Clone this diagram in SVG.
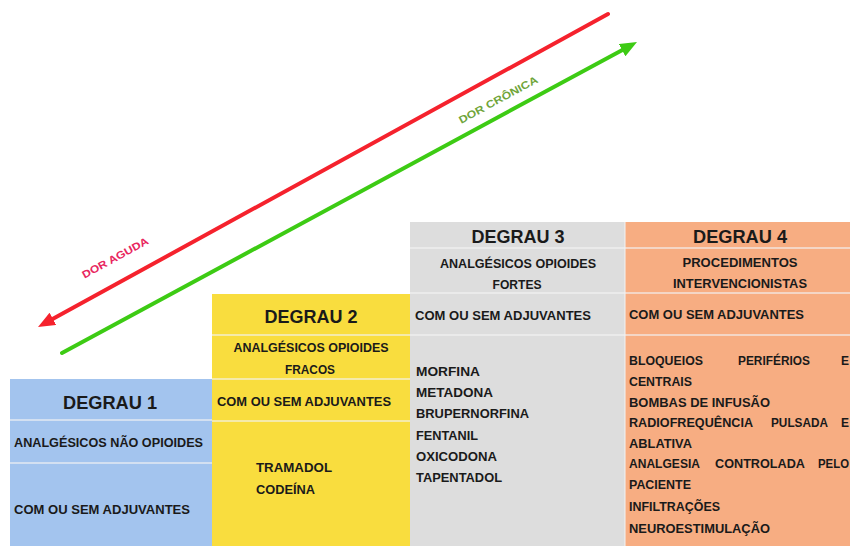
<svg xmlns="http://www.w3.org/2000/svg" width="850" height="546" viewBox="0 0 850 546">
<style>
  text { font-family: "Liberation Sans", Arial, sans-serif; font-weight: bold; fill: #1a1a1a; }
  .h { font-size: 18px; text-anchor: middle; }
  .t { font-size: 12px; }
  .c { text-anchor: middle; }
  .sep { stroke: #F3F3F3; stroke-width: 1.5; opacity: 0.8; }
  .lbl { font-size: 10.5px; text-anchor: middle; }
</style>
<defs>
  <marker id="headRed" markerUnits="userSpaceOnUse" markerWidth="17" markerHeight="14" refX="3" refY="7" orient="auto">
    <path d="M0,0 L17,7 L0,14 z" fill="#F5222D"/>
  </marker>
  <marker id="headGreen" markerUnits="userSpaceOnUse" markerWidth="17" markerHeight="14" refX="3" refY="7" orient="auto">
    <path d="M0,0 L17,7 L0,14 z" fill="#3DCB14"/>
  </marker>
</defs>
<rect width="850" height="546" fill="#FFFFFF"/>

<g id="degrau1">
  <rect x="10" y="379" width="202" height="167" fill="#A3C4EE"/>
  <line class="sep" x1="10" y1="420" x2="212" y2="420"/>
  <line class="sep" x1="10" y1="463" x2="212" y2="463"/>
  <text class="h" x="110" y="409" textLength="94" lengthAdjust="spacingAndGlyphs">DEGRAU 1</text>
  <text class="t" x="14" y="447" textLength="189" lengthAdjust="spacingAndGlyphs">ANALGÉSICOS NÃO OPIOIDES</text>
  <text class="t" x="14" y="514" textLength="176" lengthAdjust="spacingAndGlyphs">COM OU SEM ADJUVANTES</text>
</g>

<g id="degrau2">
  <rect x="212" y="294" width="198" height="252" fill="#F9DD3E"/>
  <line class="sep" x1="212" y1="335" x2="410" y2="335"/>
  <line class="sep" x1="212" y1="379" x2="410" y2="379"/>
  <line class="sep" x1="212" y1="421" x2="410" y2="421"/>
  <text class="h" x="311" y="323" textLength="93" lengthAdjust="spacingAndGlyphs">DEGRAU 2</text>
  <text class="t c" x="311" y="352" textLength="155" lengthAdjust="spacingAndGlyphs">ANALGÉSICOS OPIOIDES</text>
  <text class="t c" x="310" y="374" textLength="50" lengthAdjust="spacingAndGlyphs">FRACOS</text>
  <text class="t" x="217" y="406" textLength="174" lengthAdjust="spacingAndGlyphs">COM OU SEM ADJUVANTES</text>
  <text class="t" x="256" y="472" textLength="76" lengthAdjust="spacingAndGlyphs">TRAMADOL</text>
  <text class="t" x="256" y="494" textLength="59" lengthAdjust="spacingAndGlyphs">CODEÍNA</text>
</g>

<g id="degrau3">
  <rect x="410" y="222" width="215" height="324" fill="#DDDDDD"/>
  <line class="sep" x1="410" y1="248" x2="625" y2="248"/>
  <line class="sep" x1="410" y1="293" x2="625" y2="293"/>
  <line class="sep" x1="410" y1="335" x2="625" y2="335"/>
  <text class="h" x="518" y="243" textLength="93" lengthAdjust="spacingAndGlyphs">DEGRAU 3</text>
  <text class="t c" x="518" y="268" textLength="156" lengthAdjust="spacingAndGlyphs">ANALGÉSICOS OPIOIDES</text>
  <text class="t c" x="517" y="289" textLength="49" lengthAdjust="spacingAndGlyphs">FORTES</text>
  <text class="t" x="415" y="320" textLength="176" lengthAdjust="spacingAndGlyphs">COM OU SEM ADJUVANTES</text>
  <text class="t" x="416" y="376" textLength="64" lengthAdjust="spacingAndGlyphs">MORFINA</text>
  <text class="t" x="416" y="397" textLength="77" lengthAdjust="spacingAndGlyphs">METADONA</text>
  <text class="t" x="416" y="418" textLength="113" lengthAdjust="spacingAndGlyphs">BRUPERNORFINA</text>
  <text class="t" x="416" y="440" textLength="62" lengthAdjust="spacingAndGlyphs">FENTANIL</text>
  <text class="t" x="416" y="461" textLength="81" lengthAdjust="spacingAndGlyphs">OXICODONA</text>
  <text class="t" x="416" y="482" textLength="86" lengthAdjust="spacingAndGlyphs">TAPENTADOL</text>
</g>

<g id="degrau4">
  <rect x="625" y="222" width="225" height="324" fill="#F7AD82"/>
  <line x1="625" y1="222" x2="625" y2="546" stroke="#F3F3F3" stroke-width="1"/>
  <line class="sep" x1="625" y1="248" x2="850" y2="248"/>
  <line class="sep" x1="625" y1="293" x2="850" y2="293"/>
  <line class="sep" x1="625" y1="335" x2="850" y2="335"/>
  <text class="h" x="740" y="243" textLength="94" lengthAdjust="spacingAndGlyphs">DEGRAU 4</text>
  <text class="t c" x="740" y="267" textLength="115" lengthAdjust="spacingAndGlyphs">PROCEDIMENTOS</text>
  <text class="t c" x="740" y="288" textLength="134" lengthAdjust="spacingAndGlyphs">INTERVENCIONISTAS</text>
  <text class="t" x="629" y="319" textLength="175" lengthAdjust="spacingAndGlyphs">COM OU SEM ADJUVANTES</text>
  <text class="t" x="629" y="365" textLength="74" lengthAdjust="spacingAndGlyphs">BLOQUEIOS</text>
  <text class="t" x="738" y="365" textLength="72" lengthAdjust="spacingAndGlyphs">PERIFÉRIOS</text>
  <text class="t" x="841" y="365">E</text>
  <text class="t" x="629" y="386" textLength="63" lengthAdjust="spacingAndGlyphs">CENTRAIS</text>
  <text class="t" x="629" y="407" textLength="141" lengthAdjust="spacingAndGlyphs">BOMBAS DE INFUSÃO</text>
  <text class="t" x="629" y="427" textLength="124" lengthAdjust="spacingAndGlyphs">RADIOFREQUÊNCIA</text>
  <text class="t" x="771" y="427" textLength="57" lengthAdjust="spacingAndGlyphs">PULSADA</text>
  <text class="t" x="841" y="427">E</text>
  <text class="t" x="629" y="448" textLength="63" lengthAdjust="spacingAndGlyphs">ABLATIVA</text>
  <text class="t" x="629" y="468" textLength="71" lengthAdjust="spacingAndGlyphs">ANALGESIA</text>
  <text class="t" x="715" y="468" textLength="90" lengthAdjust="spacingAndGlyphs">CONTROLADA</text>
  <text class="t" x="818" y="468" textLength="31" lengthAdjust="spacingAndGlyphs">PELO</text>
  <text class="t" x="629" y="489" textLength="62" lengthAdjust="spacingAndGlyphs">PACIENTE</text>
  <text class="t" x="629" y="511" textLength="91" lengthAdjust="spacingAndGlyphs">INFILTRAÇÕES</text>
  <text class="t" x="629" y="533" textLength="141" lengthAdjust="spacingAndGlyphs">NEUROESTIMULAÇÃO</text>
</g>

<g id="connectors">
  <line x1="608" y1="14" x2="50.3" y2="320.3" stroke="#F5222D" stroke-width="4" stroke-linecap="round" marker-end="url(#headRed)"/>
  <line x1="62" y1="353" x2="624.7" y2="48.7" stroke="#3DCB14" stroke-width="4" stroke-linecap="round" marker-end="url(#headGreen)"/>
  <text class="lbl" transform="translate(117,261) rotate(-28.8)" style="fill:#E8265E" textLength="74" lengthAdjust="spacingAndGlyphs">DOR AGUDA</text>
  <text class="lbl" transform="translate(500,103) rotate(-28.4)" style="fill:#6FA53A" textLength="88" lengthAdjust="spacingAndGlyphs">DOR CRÔNICA</text>
</g>
</svg>
